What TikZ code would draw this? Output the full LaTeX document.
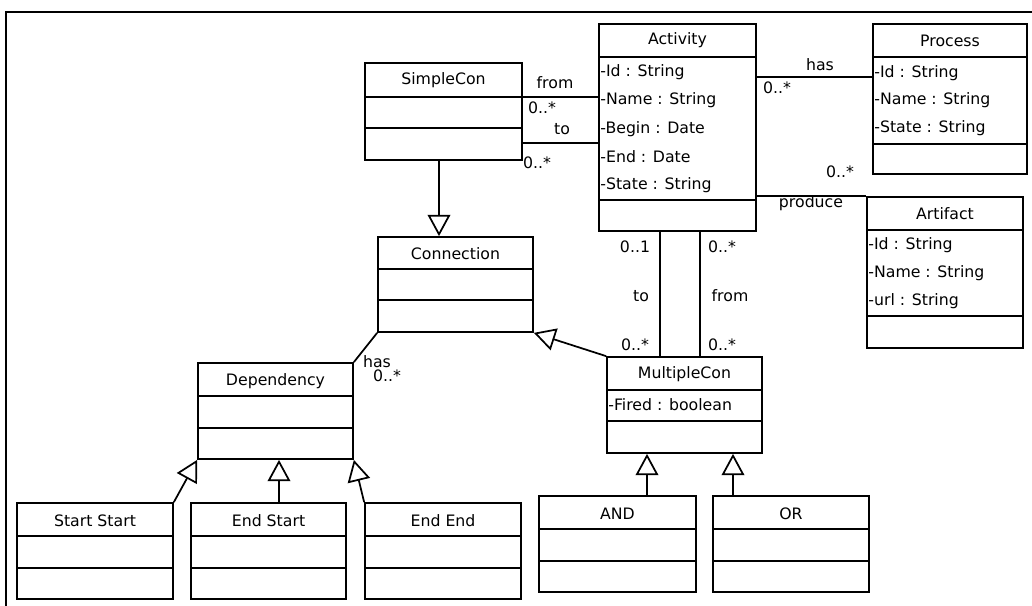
\documentclass[tikz,border=0pt]{standalone}
\usepackage{fontspec}
\newfontfamily\umlfont{DejaVu Sans}
\usetikzlibrary{fit,arrows.meta}
\tikzset{
  cls/.style={draw, line width=1.3pt, inner sep=0pt, rectangle},
  sep/.style={line width=1.3pt},
  attr/.style={anchor=west, inner sep=1.5pt, font=\umlfont\fontsize{11.8pt}{14pt}\selectfont},
  title/.style={inner sep=0pt, font=\umlfont\fontsize{11.8pt}{14pt}\selectfont},
  lbl/.style={inner sep=0pt, font=\umlfont\fontsize{11.8pt}{14pt}\selectfont},
  assoc/.style={line width=1.3pt},
  gen/.style={line width=1.3pt, -{Triangle[open, length=16pt, width=17pt]}},
}
\begin{document}
\begin{tikzpicture}[x=0.75pt, y=-0.75pt]
\useasboundingbox (0,0) rectangle (1032,606);
\draw[line width=2pt] (6,606) -- (6,12) -- (1032,12);

% ---- classes ----
\node[cls, fit={(365,63) (522,160)}] (simplecon) {};
\draw[sep] (simplecon.west |- 0,97) -- (simplecon.east |- 0,97);
\draw[sep] (simplecon.west |- 0,128) -- (simplecon.east |- 0,128);
\node[title] (simplecon-t) at (simplecon.north |- 0,80) {SimpleCon};

\node[cls, fit={(599,24) (756,231)}] (activity) {};
\draw[sep] (activity.west |- 0,57) -- (activity.east |- 0,57);
\draw[sep] (activity.west |- 0,200) -- (activity.east |- 0,200);
\node[title] (activity-t) at (activity.north |- 0,40.5) {Activity};
\node[attr] (activity-a1) at (activity.west |- 0,72) {-Id : String};
\node[attr] (activity-a2) at (activity.west |- 0,100) {-Name : String};
\node[attr] (activity-a3) at (activity.west |- 0,129) {-Begin : Date};
\node[attr] (activity-a4) at (activity.west |- 0,157) {-End : Date};
\node[attr] (activity-a5) at (activity.west |- 0,185) {-State : String};

\node[cls, fit={(873,24) (1027,174)}] (process) {};
\draw[sep] (process.west |- 0,57) -- (process.east |- 0,57);
\draw[sep] (process.west |- 0,144) -- (process.east |- 0,144);
\node[title] (process-t) at (process.north |- 0,40.5) {Process};
\node[attr] (process-a1) at (process.west |- 0,73) {-Id : String};
\node[attr] (process-a2) at (process.west |- 0,100) {-Name : String};
\node[attr] (process-a3) at (process.west |- 0,128) {-State : String};

\node[cls, fit={(867,197) (1023,348)}] (artifact) {};
\draw[sep] (artifact.west |- 0,230) -- (artifact.east |- 0,230);
\draw[sep] (artifact.west |- 0,316) -- (artifact.east |- 0,316);
\node[title] (artifact-t) at (artifact.north |- 0,214) {Artifact};
\node[attr] (artifact-a1) at (artifact.west |- 0,245) {-Id : String};
\node[attr] (artifact-a2) at (artifact.west |- 0,273) {-Name : String};
\node[attr] (artifact-a3) at (artifact.west |- 0,301) {-url : String};

\node[cls, fit={(378,237) (533,332)}] (connection) {};
\draw[sep] (connection.west |- 0,269) -- (connection.east |- 0,269);
\draw[sep] (connection.west |- 0,300) -- (connection.east |- 0,300);
\node[title] (connection-t) at (connection.north |- 0,254) {Connection};

\node[cls, fit={(198,363) (353,459)}] (dependency) {};
\draw[sep] (dependency.west |- 0,396) -- (dependency.east |- 0,396);
\draw[sep] (dependency.west |- 0,428) -- (dependency.east |- 0,428);
\node[title] (dependency-t) at (dependency.north |- 0,381) {Dependency};

\node[cls, fit={(607,357) (762,453)}] (multiplecon) {};
\draw[sep] (multiplecon.west |- 0,390) -- (multiplecon.east |- 0,390);
\draw[sep] (multiplecon.west |- 0,421) -- (multiplecon.east |- 0,421);
\node[title] (multiplecon-t) at (multiplecon.north |- 0,374) {MultipleCon};
\node[attr] (multiplecon-a1) at (multiplecon.west |- 0,405) {-Fired : boolean};

\node[cls, fit={(17,503) (173,599)}] (startstart) {};
\draw[sep] (startstart.west |- 0,536) -- (startstart.east |- 0,536);
\draw[sep] (startstart.west |- 0,568) -- (startstart.east |- 0,568);
\node[title] (startstart-t) at (startstart.north |- 0,521) {Start Start};

\node[cls, fit={(191,503) (346,599)}] (endstart) {};
\draw[sep] (endstart.west |- 0,536) -- (endstart.east |- 0,536);
\draw[sep] (endstart.west |- 0,568) -- (endstart.east |- 0,568);
\node[title] (endstart-t) at (endstart.north |- 0,521) {End Start};

\node[cls, fit={(365,503) (521,599)}] (endend) {};
\draw[sep] (endend.west |- 0,536) -- (endend.east |- 0,536);
\draw[sep] (endend.west |- 0,568) -- (endend.east |- 0,568);
\node[title] (endend-t) at (endend.north |- 0,521) {End End};

\node[cls, fit={(539,496) (696,592)}] (and) {};
\draw[sep] (and.west |- 0,529) -- (and.east |- 0,529);
\draw[sep] (and.west |- 0,561) -- (and.east |- 0,561);
\node[title] (and-t) at (and.north |- 0,514) {AND};

\node[cls, fit={(713,496) (869,592)}] (or) {};
\draw[sep] (or.west |- 0,529) -- (or.east |- 0,529);
\draw[sep] (or.west |- 0,561) -- (or.east |- 0,561);
\node[title] (or-t) at (or.north |- 0,514) {OR};

% ---- associations ----
\draw[assoc] (simplecon.east |- 0,97) -- (activity.west |- 0,97);
\draw[assoc] (simplecon.east |- 0,143) -- (activity.west |- 0,143);
\draw[assoc] (activity.east |- 0,77) -- (process.west |- 0,77);
\draw[assoc] (activity.east |- artifact.north west) -- (artifact.north west);
\draw[assoc] (activity.south -| 660,0) -- (multiplecon.north -| 660,0);
\draw[assoc] (activity.south -| 700,0) -- (multiplecon.north -| 700,0);
\draw[assoc] (dependency.north east) -- (connection.south west);

% ---- generalizations ----
\draw[gen] (simplecon.south -| 439,0) -- (connection.north -| 439,0);
\draw[gen] (multiplecon.north west) -- (connection.south east);
\draw[gen] (startstart.north east) -- (dependency.south west);
\draw[gen] (endstart.north -| 279,0) -- (dependency.south -| 279,0);
\draw[gen] (endend.north west) -- (dependency.south east);
\draw[gen] (and.north -| 647,0) -- (multiplecon.south -| 647,0);
\draw[gen] (or.north -| 733,0) -- (multiplecon.south -| 733,0);

% ---- labels ----
\node[lbl] (l-from1) at (555,83) {from};
\node[lbl] (l-m1) at (542,108) {0..*};
\node[lbl] (l-to1) at (562,129) {to};
\node[lbl] (l-m2) at (537,163) {0..*};
\node[lbl] (l-has1) at (820,65) {has};
\node[lbl] (l-m3) at (777,88) {0..*};
\node[lbl] (l-m4) at (840,172) {0..*};
\node[lbl] (l-produce) at (811,203) {produce};
\node[lbl] (l-m5) at (635,247) {0..1};
\node[lbl] (l-m6) at (722,247) {0..*};
\node[lbl] (l-to2) at (641,296) {to};
\node[lbl] (l-from2) at (730,296) {from};
\node[lbl] (l-m7) at (635,345) {0..*};
\node[lbl] (l-m8) at (722,345) {0..*};
\node[lbl] (l-has2) at (377,362) {has};
\node[lbl] (l-m9) at (387,376) {0..*};
\end{tikzpicture}
\end{document}
